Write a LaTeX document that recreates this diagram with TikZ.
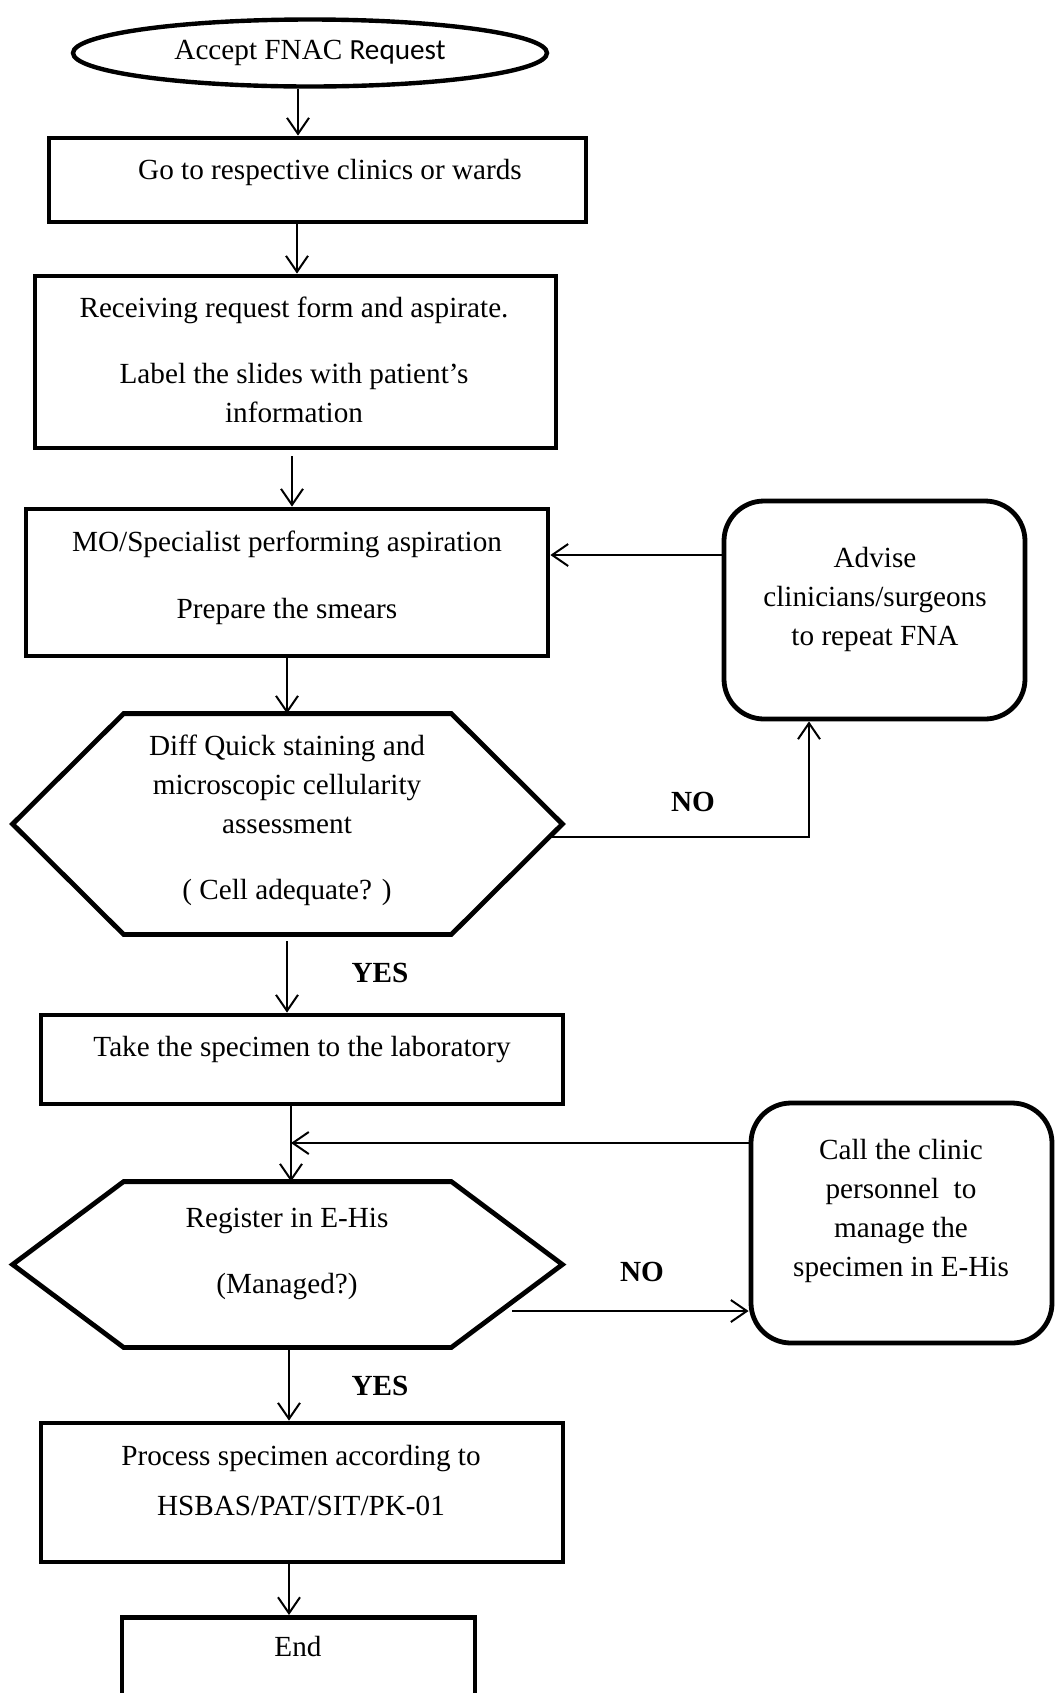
\documentclass[tikz,border=0pt]{standalone}
\usepackage{fontspec}
\setmainfont{Liberation Serif}
\newfontfamily\reqfont{Carlito}
\usetikzlibrary{arrows.meta,shapes.geometric,calc}

\begin{document}
\begin{tikzpicture}[x=0.5pt,y=-0.5pt,
    every node/.style={inner sep=0pt, font=\fontsize{14.6}{19.5}\selectfont},
    boxline/.style={draw=black, line width=2.4pt},
    stepbox/.style={boxline, rectangle},
    advbox/.style={boxline, rectangle, rounded corners=20pt},
    hexbox/.style={rectangle},
    txt/.style={align=center},
    answer/.style={font=\fontsize{14.6}{19.5}\selectfont\bfseries},
    arr/.style={line width=1pt, -{Straight Barb[length=8pt,width=11pt]}}]
    \useasboundingbox (0,0) rectangle (1062,1693);
    \clip (0,0) rectangle (1062,1693);
    \fill [white] (0,0) rectangle (1062,1693);
    \node [boxline, ellipse, line width=2.2pt, minimum width=237pt, minimum height=33.5pt] (start) at (310,53) {\raisebox{-1.6pt}{Accept FNAC {\reqfont Request}}};
    \node [stepbox, minimum width=268.5pt, minimum height=42pt] (go) at (317.5,180) {};
    \node [txt] (go-t) at (330,172.5) {Go to respective clinics or wards};
    \node [stepbox, minimum width=260.5pt, minimum height=86pt] (recv) at (295.5,362) {};
    \node [txt] (recv-t) at (294,360) {Receiving request form and aspirate.\\[13.5pt] Label the slides with patient’s\\ information};
    \node [stepbox, minimum width=261pt, minimum height=73.5pt] (asp) at (287,582.5) {};
    \node [txt] (asp-t) at (287,578) {MO/Specialist performing aspiration\\[14pt] Prepare the smears};
    \node [hexbox, minimum width=274.5pt, minimum height=110pt] (stain) at (287.5,824) {};
    \draw [boxline] (stain.west) -- ([xshift=55.5pt]stain.north west) -- ([xshift=-55.5pt]stain.north east) -- (stain.east) -- ([xshift=-55.5pt]stain.south east) -- ([xshift=55.5pt]stain.south west) -- cycle;
    \node [txt] (stain-t) at (287,820.5) {Diff Quick staining and\\ microscopic cellularity\\ assessment\\[13.5pt] ( Cell adequate? )};
    \node [advbox, minimum width=150.5pt, minimum height=109pt] (adv) at (874.5,610) {};
    \node [txt] (adv-t) at (875,599) {Advise\\ clinicians/surgeons\\ to repeat FNA};
    \node [stepbox, minimum width=261pt, minimum height=44.5pt] (lab) at (302,1059.5) {};
    \node [txt] (lab-t) at (302,1049.5) {Take the specimen to the laboratory};
    \node [hexbox, minimum width=274.5pt, minimum height=82.5pt] (reg) at (287.5,1264.5) {};
    \draw [boxline] (reg.west) -- ([xshift=55.5pt]reg.north west) -- ([xshift=-55.5pt]reg.north east) -- (reg.east) -- ([xshift=-55.5pt]reg.south east) -- ([xshift=55.5pt]reg.south west) -- cycle;
    \node [txt] (reg-t) at (287,1254) {Register in E-His\\[13.5pt] (Managed?)};
    \node [advbox, minimum width=150.5pt, minimum height=120pt] (call) at (901.5,1223) {};
    \node [txt] (call-t) at (901,1211) {Call the clinic\\ personnel~ to\\ manage the\\ specimen in E-His};
    \node [stepbox, minimum width=261pt, minimum height=69.5pt] (proc) at (302,1492.5) {};
    \node [txt] (proc-t) at (301,1480) {Process specimen according to\\[5.5pt] HSBAS/PAT/SIT/PK-01};
    \node [stepbox, anchor=north, minimum width=176.5pt, minimum height=50pt] (stop) at (298.5,1615) {};
    \node (stop-t) at (298,1646) {End};
    \node [answer] (no1) at (693,802) {NO};
    \node [answer] (yes1) at (380,973) {YES};
    \node [answer] (no2) at (642,1272) {NO};
    \node [answer] (yes2) at (380,1386) {YES};
    \coordinate (no1-turn) at (809,837);
    \coordinate (adv-out) at ([yshift=27.5pt]adv.west);
    \coordinate (call-in) at (291,1143);
    \coordinate (no2-out) at (512,1311);
    \draw [arr] (start.south -| 298,0) -- (go.north -| 298,0);
    \draw [arr] (go.south -| 297,0) -- (recv.north -| 297,0);
    \draw [arr, shorten <=3pt] (recv.south -| 292,0) -- (asp.north -| 292,0);
    \draw [arr] (asp.south -| 287,0) -- (stain.north -| 287,0);
    \draw [arr] ($(stain.east)+(-13,13)$) -- (no1-turn) -- (no1-turn |- adv.south);
    \draw [arr] (adv-out) -- (adv-out -| asp.east);
    \draw [arr, shorten <=3.5pt] (stain.south -| 287,0) -- (lab.north -| 287,0);
    \draw [arr] (lab.south -| call-in) -- (call-in |- reg.north);
    \draw [arr] (call.west |- call-in) -- (call-in);
    \draw [arr] (no2-out) -- (no2-out -| call.west);
    \draw [arr] (reg.south -| 289,0) -- (proc.north -| 289,0);
    \draw [arr] (proc.south -| 289,0) -- (stop.north -| 289,0);
\end{tikzpicture}
\end{document}
